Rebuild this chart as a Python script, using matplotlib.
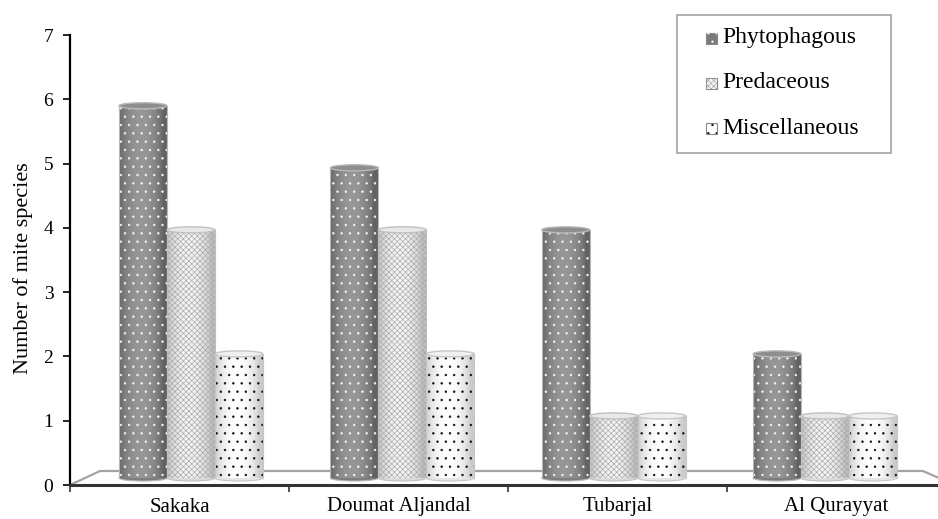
import numpy as np
import matplotlib
matplotlib.use("Agg")
import matplotlib.pyplot as plt
import matplotlib.colors as clrs
from matplotlib.patches import Rectangle, Ellipse, Polygon

plt.rcParams['font.family'] = 'serif'
plt.rcParams['font.serif'] = ['Liberation Serif', 'DejaVu Serif']
plt.rcParams['hatch.linewidth'] = 0.5

# data
regions = ["Sakaka", "Doumat Aljandal", "Tubarjal", "Al Qurayyat"]
groups = ["Phytophagous", "Predaceous", "Miscellaneous"]
phytophagous = [6, 5, 4, 2]
predaceous = [4, 4, 1, 1]
miscellaneous = [2, 2, 1, 1]
y_ticks = [0, 1, 2, 3, 4, 5, 6, 7]

values = [phytophagous, predaceous, miscellaneous]

# look of each series: side edge colour, side middle colour, hatch, hatch colour, cap colour
styles = [
    dict(edge="#626262", mid="#979797", hatch="..", hcol="#f4f4f4", cap="#8e8e8e", line="#b8b8b8"),
    dict(edge="#bdbdbd", mid="#f6f6f6", hatch="xxxxxx", hcol="#ababab", cap="#e8e8e8", line="#c0c0c0"),
    dict(edge="#cbcbcb", mid="#ffffff", hatch="..", hcol="#111111", cap="#f0f0f0", line="#c6c6c6"),
]

W, H = 938, 519
fig = plt.figure(figsize=(W / 100, H / 100), dpi=100)
ax = fig.add_axes([70 / W, (H - 485) / H, 876 / W, 450 / H])

# fake 3d projection of the bars (they stand a bit behind the front plane)
s = 0.965          # depth shrink
base = 0.109       # where the bottoms sit
cap_h = 0.095      # height of the elliptic caps
bar_w = 0.227
n = len(regions)


def proj_x(x):
    return n / 2 + (x - n / 2) * s


def shade(edge, mid, npts=60):
    t = np.linspace(0, 1, npts)
    p = np.sin(np.pi * np.clip(t * 1.08, 0, 1)) ** 0.7
    e = np.array(clrs.to_rgb(edge))
    m = np.array(clrs.to_rgb(mid))
    img = e[None, :] + (m - e)[None, :] * p[:, None]
    return img[None, :, :]


# floor
floor = Polygon([(0, 0), (30 / 876, 14 / 450), (853 / 876, 14 / 450), (876 / 876 + 0.01, 0)],
                closed=False, transform=ax.transAxes, facecolor="white",
                edgecolor="#a3a3a3", lw=1.6, zorder=1, clip_on=False)
ax.add_patch(floor)

for i in range(n):
    left = i + 0.5 - 1.5 * bar_w
    for j, st in enumerate(styles):
        v = values[j][i]
        x0 = proj_x(left + j * bar_w)
        w = bar_w * s
        top = base + v * s
        z = 3 + j * 0.1
        bottom_col = clrs.to_hex(0.5 * np.array(clrs.to_rgb(st["edge"])) +
                                 0.5 * np.array(clrs.to_rgb(st["mid"])))
        # bottom rounding
        ax.add_patch(Ellipse((x0 + w / 2, base), w, cap_h, facecolor=bottom_col,
                             edgecolor=st["line"], lw=0.8, zorder=z))
        ax.imshow(shade(st["edge"], st["mid"]), extent=(x0, x0 + w, base, top),
                  aspect="auto", interpolation="bilinear", zorder=z + 0.01)
        ax.add_patch(Rectangle((x0, base), w, top - base, fill=False, hatch=st["hatch"],
                               edgecolor=st["hcol"], lw=0, zorder=z + 0.02))
        ax.plot([x0, x0], [base, top], color=st["line"], lw=0.8, zorder=z + 0.03)
        ax.plot([x0 + w, x0 + w], [base, top], color=st["line"], lw=0.8, zorder=z + 0.03)
        ax.add_patch(Ellipse((x0 + w / 2, top), w, cap_h, facecolor=st["cap"],
                             edgecolor=st["line"], lw=1.0, zorder=z + 0.04))

ax.set_xlim(0, n)
ax.set_ylim(0, 7)

# axes look
for side in ["top", "right"]:
    ax.spines[side].set_visible(False)
ax.spines["left"].set_linewidth(1.6)
ax.spines["left"].set_color("black")
ax.spines["bottom"].set_linewidth(2.2)
ax.spines["bottom"].set_color("#333333")
ax.spines["bottom"].set_zorder(6)
ax.spines["left"].set_zorder(6)

ax.set_yticks(y_ticks)
ax.set_yticklabels([str(t) for t in y_ticks], fontsize=14)
ax.tick_params(axis="y", length=5, width=1.2, pad=7)

ax.set_xticks(range(n + 1))
ax.set_xticklabels([])
ax.set_xticks([k + 0.5 for k in range(n)], minor=True)
ax.set_xticklabels(regions, minor=True, fontsize=15)
ax.tick_params(axis="x", which="major", length=5, width=1.2, color="#333333")
ax.tick_params(axis="x", which="minor", length=0, pad=9)

fig.text(23 / W, 1 - 268 / H, "Number of mite species", rotation=90,
         ha="center", va="center", fontsize=16)

# legend box drawn by hand
fig.add_artist(Rectangle((677 / W, 1 - 153 / H), 214 / W, 138 / H, transform=fig.transFigure,
                         facecolor="white", edgecolor="#a9a9a9", lw=1.3, zorder=10))
for j, (name, st) in enumerate(zip(groups, styles)):
    yc = 38 + 45 * j
    fig.add_artist(Rectangle((706 / W, 1 - (yc + 6) / H), 11 / W, 11 / H,
                             transform=fig.transFigure, facecolor=st["mid"] if j else "#7a7a7a",
                             edgecolor="#8a8a8a", lw=0.8, zorder=11))
    fig.add_artist(Rectangle((706 / W, 1 - (yc + 6) / H), 11 / W, 11 / H,
                             transform=fig.transFigure, fill=False, hatch=st["hatch"],
                             edgecolor=st["hcol"], lw=0, zorder=12))
    fig.text(722 / W, 1 - yc / H, name, ha="left", va="center", fontsize=17, zorder=12)

fig.savefig("out.png", dpi=100)
